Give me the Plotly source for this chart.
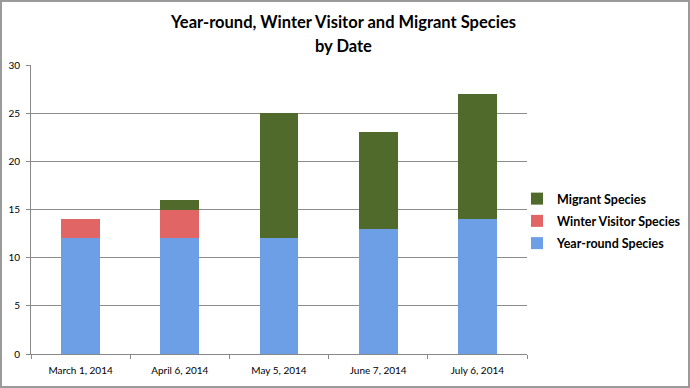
import plotly.graph_objects as go

dates = ["March 1, 2014", "April 6, 2014", "May 5, 2014", "June 7, 2014", "July 6, 2014"]
year_round = [12, 12, 12, 13, 14]
winter_visitor = [2, 3, 0, 0, 0]
migrant = [0, 1, 13, 10, 13]
title_lines = ["Year-round, Winter Visitor and Migrant Species", "by Date"]

W, H = 690, 388
L, R, T, B = 31, 163, 65, 34
pw, ph = W - L - R, H - T - B
FONT = "Lato, Open Sans, sans-serif"

fig = go.Figure()
fig.add_bar(x=dates, y=year_round, name="<b>Year-round Species</b>", legendgroup="a",
            legendrank=3, marker=dict(color="#6c9fe6", line=dict(width=0)))
fig.add_bar(x=dates, y=winter_visitor, name="<b>Winter Visitor Species</b>", legendgroup="b",
            legendrank=2, marker=dict(color="#e26565", line=dict(width=0)))
fig.add_bar(x=dates, y=migrant, name="<b>Migrant Species</b>", legendgroup="c",
            legendrank=1, marker=dict(color="#4f6a2b", line=dict(width=0)))

annotations = []
for i, line in enumerate(title_lines):
    annotations.append(dict(text="<b>%s</b>" % line, xref="paper", yref="paper",
                            x=(343 - L) / pw, y=1 + (T - (22 + 24 * i)) / ph,
                            xanchor="center", yanchor="middle", showarrow=False,
                            font=dict(size=16.5, family=FONT, color="black")))

fig.update_layout(
    width=W, height=H,
    barmode="stack", bargap=0.61,
    margin=dict(l=L, r=R, t=T, b=B, autoexpand=False),
    paper_bgcolor="white", plot_bgcolor="white",
    font=dict(family=FONT, color="black", size=10),
    annotations=annotations,
    legend=dict(traceorder="grouped", x=(517 - L) / pw, xanchor="left",
                y=(354 - 221) / ph, yanchor="middle",
                font=dict(size=12.5, family=FONT),
                itemwidth=30, tracegroupgap=3, bgcolor="rgba(0,0,0,0)"),
    showlegend=True,
    shapes=[dict(type="rect", xref="paper", yref="paper",
                 x0=-L / pw + 1 / pw, x1=1 + R / pw - 1 / pw,
                 y0=-B / ph + 1 / ph, y1=1 + T / ph - 1 / ph,
                 line=dict(color="#9a9a9a", width=2), layer="above")],
)
fig.update_xaxes(showline=True, linecolor="#888", linewidth=1,
                 ticks="outside", tickson="boundaries", ticklen=4, tickcolor="#888",
                 showgrid=False, tickfont=dict(size=10), ticklabelstandoff=7)
fig.update_yaxes(range=[0, 30], dtick=5, showline=True, linecolor="#888", linewidth=1,
                 ticks="outside", ticklen=4, tickcolor="#888",
                 showgrid=True, gridcolor="#8c8c8c", gridwidth=1, zeroline=False,
                 tickfont=dict(size=10), ticklabelstandoff=4)

fig.write_html("out.html", config={"displayModeBar": False},
               post_script="document.body.style.margin='0px';")
